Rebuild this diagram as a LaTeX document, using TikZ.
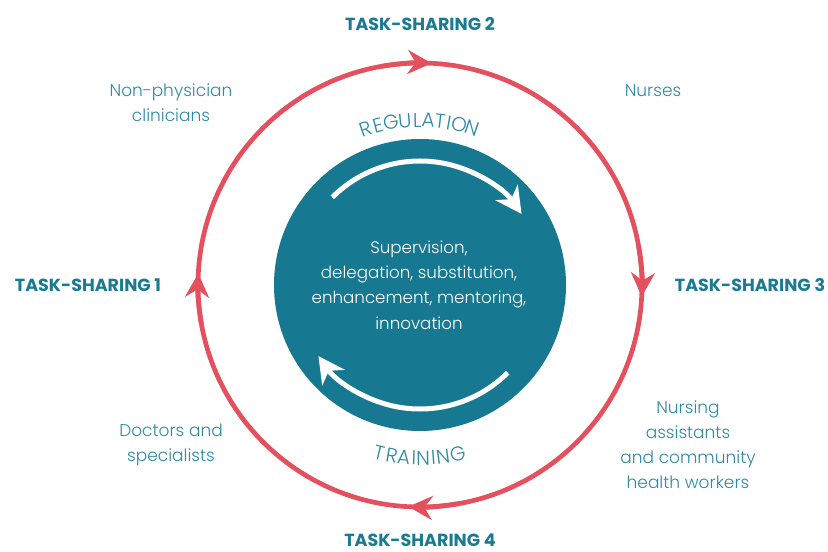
\documentclass[tikz,border=0pt]{standalone}
\usepackage{fontspec}
\setmainfont{Poppins}[UprightFont=* Light, BoldFont=* Bold]
\usetikzlibrary{arrows.meta,calc}
\definecolor{tealfill}{HTML}{177892}
\definecolor{tealhead}{HTML}{1A7A91}
\definecolor{teallabel}{HTML}{2E8AA5}
\definecolor{ringred}{HTML}{E5505E}
\tikzset{
  ring/.style={draw=ringred, line width=4.7pt},
  ringarrow/.style={draw=ringred, line width=4.7pt, -{Stealth[length=24pt,width=24pt,inset=8pt]}},
  inarrow/.style={draw=white, line width=5pt, -{Stealth[length=26pt,width=27pt,inset=8pt]}},
  tshead/.style={font=\bfseries\fontsize{17.5}{20}\selectfont, text=tealhead, inner sep=0pt},
  lbl/.style={font=\fontsize{17}{25}\selectfont, text=teallabel, align=center, inner sep=0pt},
  ctext/.style={font=\fontsize{16.7}{25.3}\selectfont, text=white, align=center, inner sep=0pt},
  curv/.style={font=\fontsize{20}{22}\selectfont, text=teallabel, inner sep=0pt, anchor=base}
}
\begin{document}
\begin{tikzpicture}[x=1pt,y=1pt]
\useasboundingbox (0,0) rectangle (828,552);
\coordinate (C) at (420,267);
% inner disc
\fill[tealfill] (C) circle[radius=146];
% outer ring
\draw[ring] (C) circle[radius=222];
\draw[ringarrow] ([shift={(C)}]100:222) arc[start angle=100, end angle=87, radius=222];
\draw[ringarrow] ([shift={(C)}]10:222) arc[start angle=10, end angle=-3, radius=222];
\draw[ringarrow] ([shift={(C)}]280:222) arc[start angle=280, end angle=267, radius=222];
\draw[ringarrow] ([shift={(C)}]190:222) arc[start angle=190, end angle=177, radius=222];
% inner arrows
\draw[inarrow] ([shift={(C)}]135:124) arc[start angle=135, end angle=35, radius=124];
\draw[inarrow] ([shift={(C)}]-45:124) arc[start angle=-45, end angle=-145, radius=124];
% centre text
\node[ctext] (centre) at (419,267) {Supervision,\\delegation, substitution,\\enhancement, mentoring,\\innovation};
% headings
\node[tshead] (ts2) at (420,528) {TASK-SHARING 2};
\node[tshead] (ts1) at (88,267) {TASK-SHARING 1};
\node[tshead] (ts3) at (750,267) {TASK-SHARING 3};
\node[tshead] (ts4) at (420,12) {TASK-SHARING 4};
% labels
\node[lbl] (npc) at (171,449) {Non-physician\\clinicians};
\node[lbl] (nur) at (653,461) {Nurses};
\node[lbl] (doc) at (171,107.5) {Doctors and\\specialists};
\node[lbl] (nac) at (688,107.5) {Nursing\\assistants\\and community\\health workers};
% curved words
\foreach \a/\l in {109.3/R,104.8/E,100.2/G,95.3/U,91.0/L,87.1/A,83.0/T,79.9/I,76.3/O,71.5/N}
  \node[curv, rotate=\a-90] at ([shift={(C)}]\a:158) {\l};
\foreach \a/\l in {256.3/T,260.6/R,264.6/A,268.0/I,271.0/N,274.4/I,277.6/N,282.6/G}
  \node[curv, rotate=\a+90] at ([shift={(C)}]\a:180) {\l};
\end{tikzpicture}
\end{document}
